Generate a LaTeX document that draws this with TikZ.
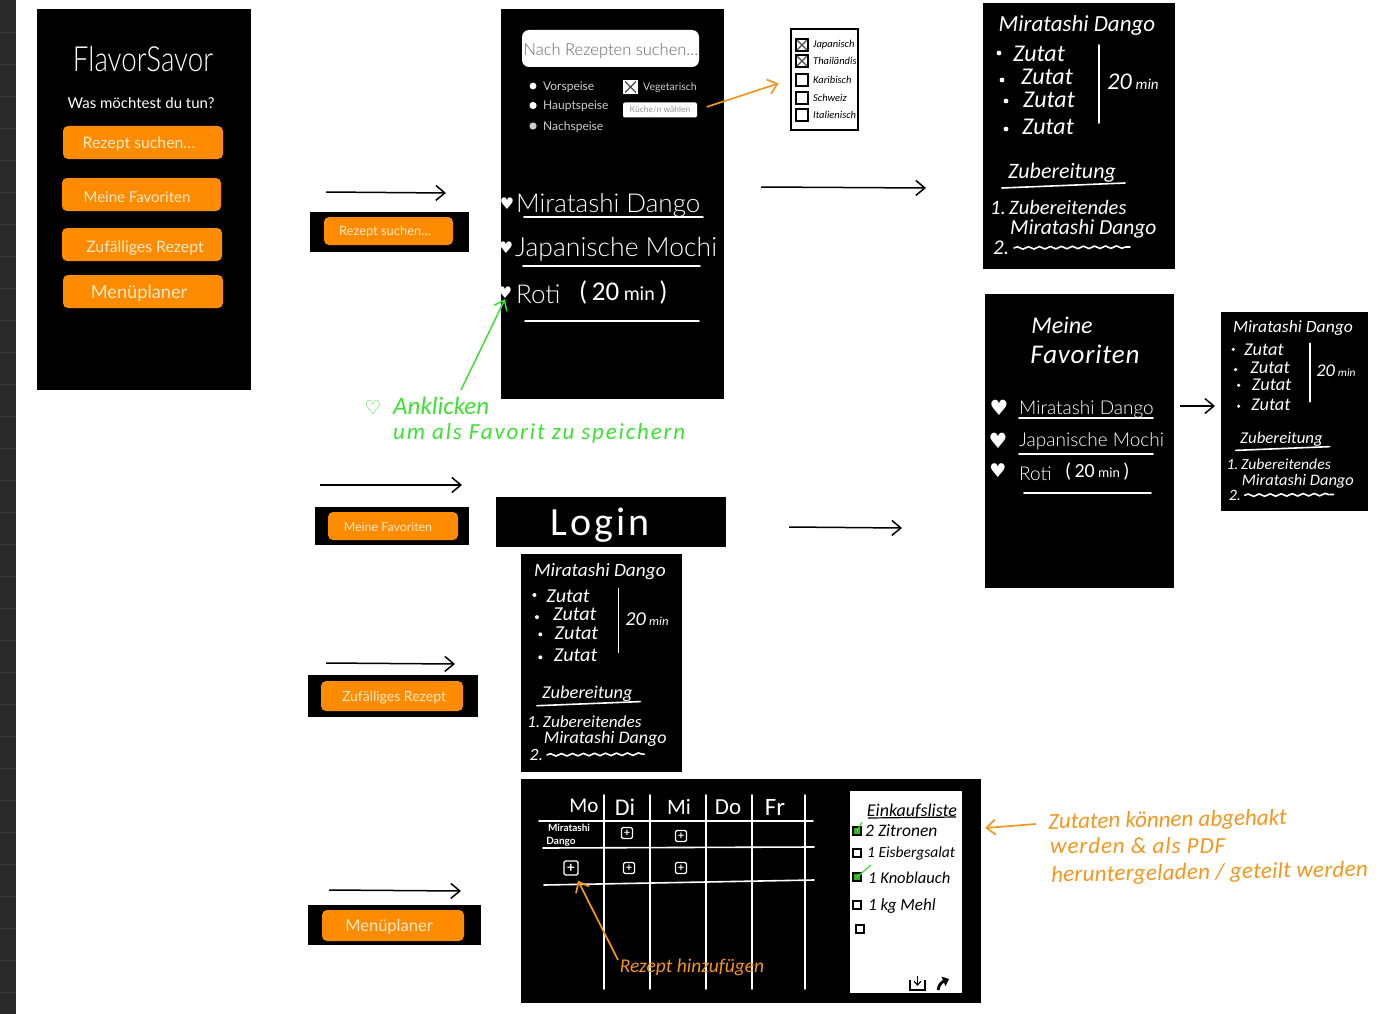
\documentclass[tikz,border=0pt]{standalone}
\usepackage{fontspec}
\setsansfont{Lato}
\newfontfamily\lightfont{Lato Light}
\newfontfamily\symfont{DejaVu Sans}
\newfontfamily\handfont{Carlito}
\usetikzlibrary{
  arrows.meta,
  calc,
  decorations.pathmorphing
}
\definecolor{stripcolor}{RGB}{42, 42, 42}
\definecolor{stripline}{RGB}{56, 56, 56}
\definecolor{btncolor}{RGB}{255, 140, 0}
\definecolor{btntextcolor}{RGB}{255, 232, 200}
\definecolor{notecolor}{RGB}{243, 150, 30}
\definecolor{favcolor}{RGB}{60, 225, 50}
\definecolor{greytext}{RGB}{205, 205, 205}
\newcommand{\fsz}[1]{\fontsize{#1}{#1}\selectfont}
\tikzset{
x=1pt,
y=-1pt,
screen/.style={
  fill=black,
  anchor=north west,
  inner sep=0pt
},
btnbox/.style={
  fill=btncolor,
  rounded corners=5pt,
  inner sep=0pt
},
btntext/.style={
  font=\sffamily\fsz{#1},
  text=btntextcolor,
  inner sep=0pt
},
typed/.style={
  font=\sffamily\fsz{#1},
  text=white,
  inner sep=0pt
},
thintyped/.style={
  font=\lightfont\fsz{#1},
  text=white,
  inner sep=0pt
},
hand/.style={
  font=\handfont\itshape\fsz{#1},
  text=white,
  inner sep=0pt
},
handup/.style={
  font=\handfont\fsz{#1},
  text=white,
  inner sep=0pt
},
heart/.style={
  font=\symfont\fsz{#1},
  text=white,
  inner sep=0pt
},
rule/.style={
  draw=white,
  line width=1.6pt,
  line cap=round
},
tickbox/.style={
  draw=black,
  line width=1.3pt,
  fill=white,
  inner sep=0pt,
  minimum size=#1
},
crossed/.style={
  path picture={
    \draw[black!70,line width=1.1pt]
      (path picture bounding box.north west) -- (path picture bounding box.south east)
      (path picture bounding box.south west) -- (path picture bounding box.north east);
  }
},
plusbox/.style={
  draw=white,
  line width=1.2pt,
  rounded corners=1.5pt,
  text=white,
  inner sep=0pt,
  minimum size=#1,
  font=\sffamily\bfseries\fsz{#1}
},
arrow/.style={
  -{Straight Barb[length=9pt,width=15pt]},
  line width=1.5pt,
  draw=black
},
notearrow/.style={
  -{Straight Barb[length=9pt,width=15pt]},
  line width=1.7pt,
  draw=notecolor
},
favarrow/.style={
  -{Straight Barb[length=9pt,width=14pt]},
  line width=1.5pt,
  draw=favcolor
},
recipecard/.pic={
  \node[screen,minimum width=192pt,minimum height=266pt] (-bg) at (0,0) {};
  \node[hand=23] (-title) at (94,22) {Miratashi Dango};
  \foreach \bx/\by/\tx/\ty in {16/50/56/51,19/77/64/74,23/98/66/97,23/126/65/124} {
    \fill[white] (\bx,\by) circle (2.4);
    \node[hand=24] at (\tx,\ty) {Zutat};
  }
  \draw[rule] (116,42) -- (116,120);
  \node[hand=24] (-time) at (150,79) {20\,{\fsz{15}min}};
  \node[hand=22] (-prep) at (79,170) {Zubereitung};
  \draw[rule] (19,185) -- (142,180);
  \node[hand=20.5,anchor=west] (-step) at (7,204) {1.\,Zubereitendes};
  \node[hand=21.5,anchor=west] (-stepname) at (27,226) {Miratashi Dango};
  \node[hand=21,anchor=west] (-steptwo) at (10,245) {2.};
  \draw[rule,decorate,decoration={snake,amplitude=1.2pt,segment length=11pt}] (31,245) -- (147,244);
}
}
\begin{document}
\begin{tikzpicture}
  \useasboundingbox (0,0) rectangle (1381,1014);
  \fill[stripcolor] (0,0) rectangle (16,1014);
  \foreach \ly in {32,64,...,1000} {
    \draw[stripline,line width=.6pt] (0,\ly) -- (16,\ly);
  }

  % start screen
  \node[screen,minimum width=214pt,minimum height=381pt] (home) at (37,9) {};
  \node[thintyped=33] (appname) at (143,59) {\scalebox{.84}[1.05]{FlavorSavor}};
  \node[typed=15] (question) at (141,103) {Was möchtest du tun?};
  \node[btnbox,minimum width=160pt,minimum height=33pt] (homesuchen) at (143,142.5) {};
  \node[btntext=15.8] at (139,144) {Rezept suchen…};
  \node[btnbox,minimum width=159pt,minimum height=33pt] (homefav) at (141.5,194.5) {};
  \node[btntext=15] at (137,197) {Meine Favoriten};
  \node[btnbox,minimum width=160pt,minimum height=33pt] (homezufall) at (142,244.5) {};
  \node[btntext=15.8] at (145,248) {Zufälliges Rezept};
  \node[btnbox,minimum width=160pt,minimum height=33pt] (homeplan) at (143,291.5) {};
  \node[btntext=18.2] at (139,293) {Menüplaner};

  % buttons between the arrows
  \node[screen,minimum width=159pt,minimum height=40pt] (suchenbar) at (310,212) {};
  \node[btnbox,minimum width=129pt,minimum height=28pt] (suchenbtn) at (388.5,231) {};
  \node[btntext=12.9] at (385,232) {Rezept suchen…};
  \node[screen,minimum width=154pt,minimum height=38pt] (favbar) at (315,507) {};
  \node[btnbox,minimum width=130pt,minimum height=28pt] (favbtn) at (393,526) {};
  \node[btntext=12.4] at (388,527) {Meine Favoriten};
  \node[screen,minimum width=170pt,minimum height=42pt] (zufallbar) at (308,675) {};
  \node[btnbox,minimum width=142pt,minimum height=30pt] (zufallbtn) at (392,696) {};
  \node[btntext=14] at (394,698) {Zufälliges Rezept};
  \node[screen,minimum width=173pt,minimum height=40pt] (planbar) at (308,905) {};
  \node[btnbox,minimum width=142pt,minimum height=31pt] (planbtn) at (393,925.5) {};
  \node[btntext=16.5] at (389,927) {Menüplaner};

  \coordinate (suchenstart) at (326,192);
  \coordinate (suchenend) at (446,193);
  \coordinate (favstart) at (320,485);
  \coordinate (favend) at (462,485);
  \coordinate (zufallstart) at (326,663);
  \coordinate (zufallend) at (455,664);
  \coordinate (planstart) at (329,890);
  \coordinate (planend) at (461,891);
  \draw[arrow] (suchenstart) -- (suchenend);
  \draw[arrow] (favstart) -- (favend);
  \draw[arrow] (zufallstart) -- (zufallend);
  \draw[arrow] (planstart) -- (planend);

  % search screen
  \node[screen,minimum width=223pt,minimum height=390pt] (search) at (501,9) {};
  \node[fill=white,rounded corners=7pt,minimum width=177pt,minimum height=37pt,inner sep=0pt] (searchbox) at (610.5,48.5) {};
  \node[thintyped=16.5,text=black!60] at (611,51) {Nach Rezepten suchen…};
  \fill[white] (533,86) circle (3.4);
  \fill[white] (533,105.5) circle (3.6);
  \fill[greytext] (533,126) circle (3.6);
  \node[typed=12,text=greytext,anchor=west] (vorspeise) at (543,87) {Vorspeise};
  \node[typed=12,text=greytext,anchor=west] (hauptspeise) at (543,106.5) {Hauptspeise};
  \node[typed=12,text=greytext,anchor=west] (nachspeise) at (543,127.5) {Nachspeise};
  \node[tickbox=13pt,crossed,fill=white,draw=white] (vegbox) at (630.5,87) {};
  \node[typed=10.5,text=greytext,anchor=west] (vegetarisch) at (643,88) {Vegetarisch};
  \node[fill=white,rounded corners=2pt,minimum width=74pt,minimum height=15pt,inner sep=0pt,font=\sffamily\fsz{8.5},text=gray!80] (kueche) at (660,110) {Küche/n wählen};

  \node[thintyped=26,anchor=west] (dango) at (516,205) {Miratashi Dango};
  \node[thintyped=26.5,anchor=west] (mochi) at (515,249) {Japanische Mochi};
  \node[thintyped=26,anchor=west] (roti) at (516,294) {Roti};
  \node[handup=27,anchor=west] (rotitime) at (579,292) {(\,20\,{\fsz{20}min}\,)};
  \node[heart=16] (dangoheart) at (507,204) {♥};
  \node[heart=16] (mochiheart) at (506,248) {♥};
  \node[heart=16] (rotiheart) at (505,293) {♥};
  \draw[rule] (524,217) -- (703,217);
  \draw[rule] (523,266) -- (700,266);
  \draw[rule] (525,321) -- (699,321);

  % cuisine list
  \node[screen,fill=white,draw=black,line width=2.4pt,minimum width=67pt,minimum height=101pt] (kuechelist) at (790,28) {};
  \begin{scope}
    \clip (790,29) rectangle (855.5,128);
    \foreach \rowy/\rowname/\rowkind in {45/Japanisch/crossed,61/Thailändisch/crossed,80/Karibisch/,98/Schweiz/,115/Italienisch/} {
      \node[tickbox=12pt,\rowkind] at (802,\rowy) {};
      \node[hand=10.5,text=black,anchor=west] at (813,\rowy) {\rowname};
    }
  \end{scope}
  \draw[notearrow,shorten <=10pt,shorten >=12pt] (kueche.east) -- (kuechelist.west);

  \coordinate (rezeptstart) at (761,187);
  \coordinate (rezeptend) at (926,188);
  \draw[arrow] (rezeptstart) -- (rezeptend);
  \pic (cardtop) at (983,3) {recipecard};

  % hint for favourites
  \node[heart=19,text=favcolor] (hintheart) at (373,408) {♡};
  \node[hand=25,text=favcolor,anchor=west] (hintone) at (393,406) {Anklicken};
  \node[hand=23,text=favcolor,anchor=west] (hinttwo) at (393,433) {\addfontfeature{LetterSpace=8}um als Favorit zu speichern};
  \coordinate (hintstart) at (461,390);
  \draw[favarrow] (hintstart) -- (rotiheart.south);

  % login
  \node[screen,minimum width=230pt,minimum height=50pt] (login) at (496,497) {};
  \node[handup=40] (logintext) at (600,525) {\addfontfeature{LetterSpace=8}Login};
  \coordinate (loginstart) at (789,527);
  \coordinate (loginend) at (902,528);
  \draw[arrow] (loginstart) -- (loginend);

  % favourites
  \node[screen,minimum width=189pt,minimum height=294pt] (favs) at (985,294) {};
  \node[hand=24] (favsone) at (1062,325) {Meine};
  \node[hand=27] (favstwo) at (1085,354) {\addfontfeature{LetterSpace=3}Favoriten};
  \node[heart=21] (favheartone) at (999,408) {♥};
  \node[heart=21] (favhearttwo) at (998,441) {♥};
  \node[heart=19] (favheartthree) at (998,471) {♥};
  \node[thintyped=19,anchor=west] (favdango) at (1019,409.5) {Miratashi Dango};
  \node[thintyped=19,anchor=west] (favmochi) at (1019,441.5) {Japanische Mochi};
  \node[thintyped=19,anchor=west] (favroti) at (1019,473.5) {Roti};
  \node[handup=20,anchor=west] (favtime) at (1065,472) {(\,20\,{\fsz{14}min}\,)};
  \draw[rule] (1019,418) -- (1153,418);
  \draw[rule] (1019,454) -- (1153,454);
  \draw[rule] (1024,493) -- (1151,493);
  \coordinate (favsstart) at (1180,406);
  \coordinate (favsend) at (1215,406);
  \draw[arrow] (favsstart) -- (favsend);
  \pic[transform shape,xscale=.766,yscale=.748] (cardright) at (1221,312) {recipecard};
  \pic[transform shape,xscale=.84,yscale=.82] (cardmid) at (521,554) {recipecard};

  % planner
  \node[screen,minimum width=460pt,minimum height=224pt] (planner) at (521,779) {};
  \foreach \gx in {604,650,706,752,805} {
    \draw[rule] (\gx,795) -- (\gx,989);
  }
  \draw[rule] (539,821) -- (813,821);
  \draw[rule] (543,848) -- (814,847);
  \draw[rule] (544,885) -- (814,880);
  \node[handup=21] (mo) at (584,806) {Mo};
  \node[handup=24] (di) at (625,807) {Di};
  \node[handup=22] (mi) at (679,807) {Mi};
  \node[handup=23] (do) at (728,807) {Do};
  \node[handup=25] (fr) at (775,807) {Fr};
  \node[typed=10.5,font=\sffamily\bfseries\fsz{10}] (slotname) at (569,828) {Miratashi};
  \node[typed=10.5,font=\sffamily\bfseries\fsz{10}] (slotnametwo) at (561,842) {Dango};
  \node[plusbox=11pt] at (627,833) {+};
  \node[plusbox=11pt] at (681,836) {+};
  \node[plusbox=14pt] (plusmain) at (571,868) {+};
  \node[plusbox=11pt] at (629,868) {+};
  \node[plusbox=11pt] at (681,868) {+};
  \node[hand=19.5,text=notecolor] (hinzu) at (692,967) {Rezept hinzufügen};
  \coordinate (hinzustart) at (618,960);
  \draw[notearrow] (hinzustart) -- ([shift={(7pt,-5pt)}]plusmain.south);

  % shopping list
  \node[screen,fill=white,minimum width=112pt,minimum height=202pt] (shopping) at (850,791) {};
  \node[hand=18,text=black] (shoptitle) at (912,811) {Einkaufsliste};
  \draw[black,line width=1.2pt] (868,818) -- (956,817);
  \node[tickbox=8pt,fill=favcolor!80!black] (shopone) at (857,831) {};
  \node[tickbox=8pt] (shoptwo) at (857,853) {};
  \node[tickbox=8pt,fill=favcolor!80!black] (shopthree) at (857,877) {};
  \node[tickbox=8pt] (shopfour) at (857,905) {};
  \node[tickbox=8pt] (shopfive) at (860,929) {};
  \node[hand=17.5,text=black,anchor=west] at (865,831) {2 Zitronen};
  \node[hand=15.5,text=black,anchor=west] at (867,853) {1 Eisbergsalat};
  \node[hand=16.5,text=black,anchor=west] at (868,878) {1 Knoblauch};
  \node[hand=17,text=black,anchor=west] at (868,906) {1 kg Mehl};
  \draw[favcolor,line width=1.2pt] (shopone.center) -- (862,822);
  \draw[favcolor,line width=1.2pt] (shopthree.center) -- (871,865);
  % export icons
  \draw[black,line width=1.2pt] (910,980) -- (910,990) -- (925,990) -- (925,980);
  \draw[black,line width=1.2pt,-{Straight Barb[length=4pt,width=7pt]}] (917.5,976) -- (917.5,986);
  \draw[black,line width=2.8pt,-{Triangle[length=6pt,width=10pt]}] (938,990) .. controls (939,984) and (942,982) .. (949,979);

  % hint for the shopping list
  \coordinate (shopnotestart) at (1036,824);
  \coordinate (shopnoteend) at (985,828);
  \draw[notearrow] (shopnotestart) -- (shopnoteend);
  \node[hand=23,text=notecolor,rotate=1,anchor=west] (noteone) at (1048,823) {Zutaten können abgehakt};
  \node[hand=23,text=notecolor,anchor=west] (notetwo) at (1050,846) {\addfontfeature{LetterSpace=4}werden \& als PDF};
  \node[hand=23,text=notecolor,rotate=1,anchor=west] (notethree) at (1051,876) {\addfontfeature{LetterSpace=1.2}heruntergeladen / geteilt werden};
\end{tikzpicture}
\end{document}
